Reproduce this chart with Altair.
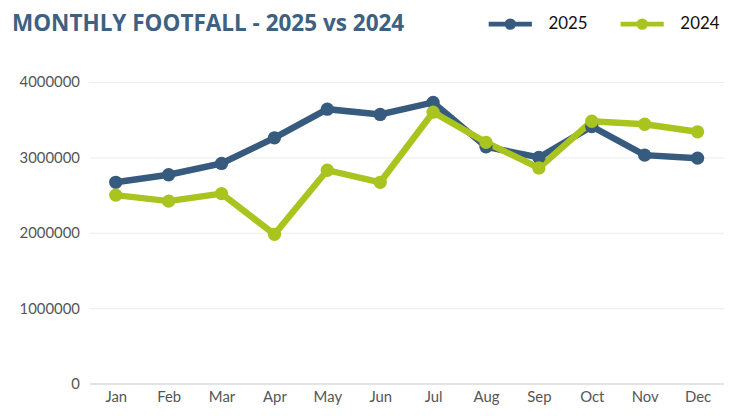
import altair as alt
import pandas as pd

months = ["Jan", "Feb", "Mar", "Apr", "May", "Jun", "Jul", "Aug", "Sep", "Oct", "Nov", "Dec"]
footfall_2025 = [2670000, 2770000, 2920000, 3260000, 3640000, 3570000, 3730000, 3140000, 3000000, 3410000, 3030000, 2990000]
footfall_2024 = [2500000, 2420000, 2520000, 1980000, 2830000, 2670000, 3600000, 3200000, 2860000, 3480000, 3440000, 3340000]
series = ["2025", "2024"]
colors = ["#365b7e", "#a9c41f"]

rows = []
for m, v in zip(months, footfall_2025):
    rows.append({"month": m, "year": "2025", "value": v})
for m, v in zip(months, footfall_2024):
    rows.append({"month": m, "year": "2024", "value": v})
df = pd.DataFrame(rows)

legend_symbol = "M-1,0L1,0M0.15,0A0.15,0.15,0,1,1,-0.15,0A0.15,0.15,0,1,1,0.15,0Z"

x = alt.X("month:N", sort=months, title=None,
          scale=alt.Scale(paddingInner=1, paddingOuter=0.5),
          axis=alt.Axis(labelAngle=0, labelFont="Lato", labelFontSize=15, labelColor="#555555",
                        labelPadding=6, ticks=False, domain=True, domainColor="#dddddd",
                        domainWidth=1.5, grid=False))
y = alt.Y("value:Q", title=None,
          scale=alt.Scale(domain=[0, 4000000], nice=False),
          axis=alt.Axis(values=[0, 1000000, 2000000, 3000000, 4000000], format="d",
                        labelFont="Lato", labelFontSize=15, labelColor="#555555",
                        labelPadding=10, ticks=False, domain=False,
                        gridColor="#ececec", gridWidth=1))
color = alt.Color("year:N", scale=alt.Scale(domain=series, range=colors),
                  legend=alt.Legend(title=None, orient="none", direction="horizontal",
                                    legendX=400, legendY=-83,
                                    symbolType=legend_symbol, symbolSize=1900,
                                    symbolStrokeWidth=5, symbolOpacity=1,
                                    labelFont="Lato", labelFontSize=17, labelColor="#111111",
                                    labelOffset=14, columnPadding=22))

line = alt.Chart(df).mark_line(strokeWidth=6.5).encode(x=x, y=y, color=color)
pts = alt.Chart(df).mark_circle(size=180, opacity=1).encode(x=x, y=y, color=alt.Color("year:N", scale=alt.Scale(domain=series, range=colors), legend=None))

chart = alt.layer(line, pts).properties(
    width=640, height=304,
    autosize=alt.AutoSizeParams(type="none"),
    padding={"left": 82, "top": 73, "right": 0, "bottom": 20},
    title=alt.TitleParams("MONTHLY FOOTFALL - 2025 vs 2024", anchor="start", frame="group",
                          font="Open Sans", fontSize=22.7, fontWeight="bold", color="#3e6182",
                          dx=-78, offset=0, dy=36),
).configure_view(stroke=None)

chart.save("out.html", embed_options={"renderer": "svg", "actions": False})
